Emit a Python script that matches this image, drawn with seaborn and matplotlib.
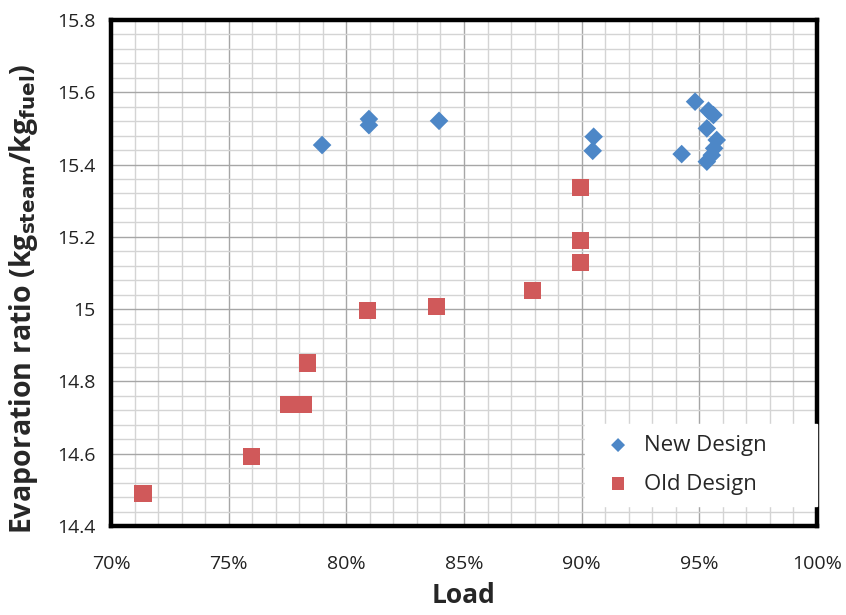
import matplotlib
matplotlib.use("Agg")
import matplotlib.pyplot as plt
import seaborn as sns
import pandas as pd
from matplotlib.ticker import MultipleLocator, FuncFormatter

# load as fraction of full load, evaporation ratio in kg steam / kg fuel
new_load = [0.7897, 0.8096, 0.8096, 0.8394, 0.9051, 0.9047, 0.9482, 0.9539,
            0.9560, 0.9532, 0.9574, 0.9563, 0.9553, 0.9532, 0.9425]
new_ratio = [15.454, 15.526, 15.509, 15.521, 15.477, 15.438, 15.574, 15.549,
             15.537, 15.500, 15.468, 15.445, 15.426, 15.408, 15.429]
old_load = [0.7136, 0.7595, 0.7756, 0.7816, 0.7837, 0.8088, 0.8385, 0.8792,
            0.8997, 0.8997, 0.8997]
old_ratio = [14.491, 14.591, 14.735, 14.737, 14.851, 14.995, 15.006, 15.052,
             15.337, 15.191, 15.128]

df = pd.concat([
    pd.DataFrame({"Load": new_load, "Ratio": new_ratio, "Design": "New Design"}),
    pd.DataFrame({"Load": old_load, "Ratio": old_ratio, "Design": "Old Design"}),
])

sns.set_theme(style="white")
plt.rcParams["font.family"] = ["Open Sans", "DejaVu Sans"]

fig = plt.figure(figsize=(8.46, 6.15), dpi=100)
ax = fig.add_axes([0.1312, 0.1447, 0.8345, 0.8228])

palette = {"New Design": "#4D87C7", "Old Design": "#D0595A"}
markers = {"New Design": "D", "Old Design": "s"}
sizes = {"New Design": 90, "Old Design": 150}

for name in ["New Design", "Old Design"]:
    sub = df[df["Design"] == name]
    sns.scatterplot(data=sub, x="Load", y="Ratio", marker=markers[name],
                    color=palette[name], s=sizes[name], edgecolor="none",
                    linewidth=0, label=name, ax=ax, zorder=3)

ax.set_xlim(0.70, 1.00)
ax.set_ylim(14.4, 15.8)
ax.xaxis.set_major_locator(MultipleLocator(0.05))
ax.xaxis.set_minor_locator(MultipleLocator(0.01))
ax.yaxis.set_major_locator(MultipleLocator(0.2))
ax.yaxis.set_minor_locator(MultipleLocator(0.04))
ax.xaxis.set_major_formatter(FuncFormatter(lambda v, p: f"{v*100:.0f}%"))
ax.yaxis.set_major_formatter(FuncFormatter(lambda v, p: f"{v:.1f}" if abs(v - round(v)) > 1e-6 else f"{round(v)}"))

ax.grid(which="major", color="#a6a6a6", linewidth=1.0, zorder=0)
ax.grid(which="minor", color="#d4d4d4", linewidth=1.0, zorder=0)
ax.set_axisbelow(True)

for sp in ax.spines.values():
    sp.set_visible(True)
    sp.set_color("black")
    sp.set_linewidth(3.2)

ax.tick_params(which="major", direction="out", length=5, width=1, color="#888888",
               labelsize=14, labelcolor="#222222")
ax.tick_params(which="minor", length=0)
ax.tick_params(axis="y", pad=6)
ax.tick_params(axis="x", pad=16)

ax.set_xlabel("Load", fontsize=19, fontweight="bold", labelpad=6)
ax.set_ylabel(r"Evaporation ratio (kg$_{\mathbf{steam}}$/kg$_{\mathbf{fuel}}$)",
              fontsize=20.5, fontweight="bold")
ax.yaxis.set_label_coords(-0.1, 0.45)

leg = ax.legend(loc="lower left", bbox_to_anchor=(0.671, 0.04, 0.329, 0.17),
                mode="expand", frameon=True, fontsize=16, handlelength=2.0,
                handletextpad=0.15, borderpad=0.5, labelspacing=0.8,
                markerscale=0.75, fancybox=False, borderaxespad=0)
leg.get_frame().set_edgecolor("white")
leg.get_frame().set_facecolor("white")
leg.get_frame().set_alpha(1)

fig.savefig("out.png", dpi=100)
plt.close(fig)
